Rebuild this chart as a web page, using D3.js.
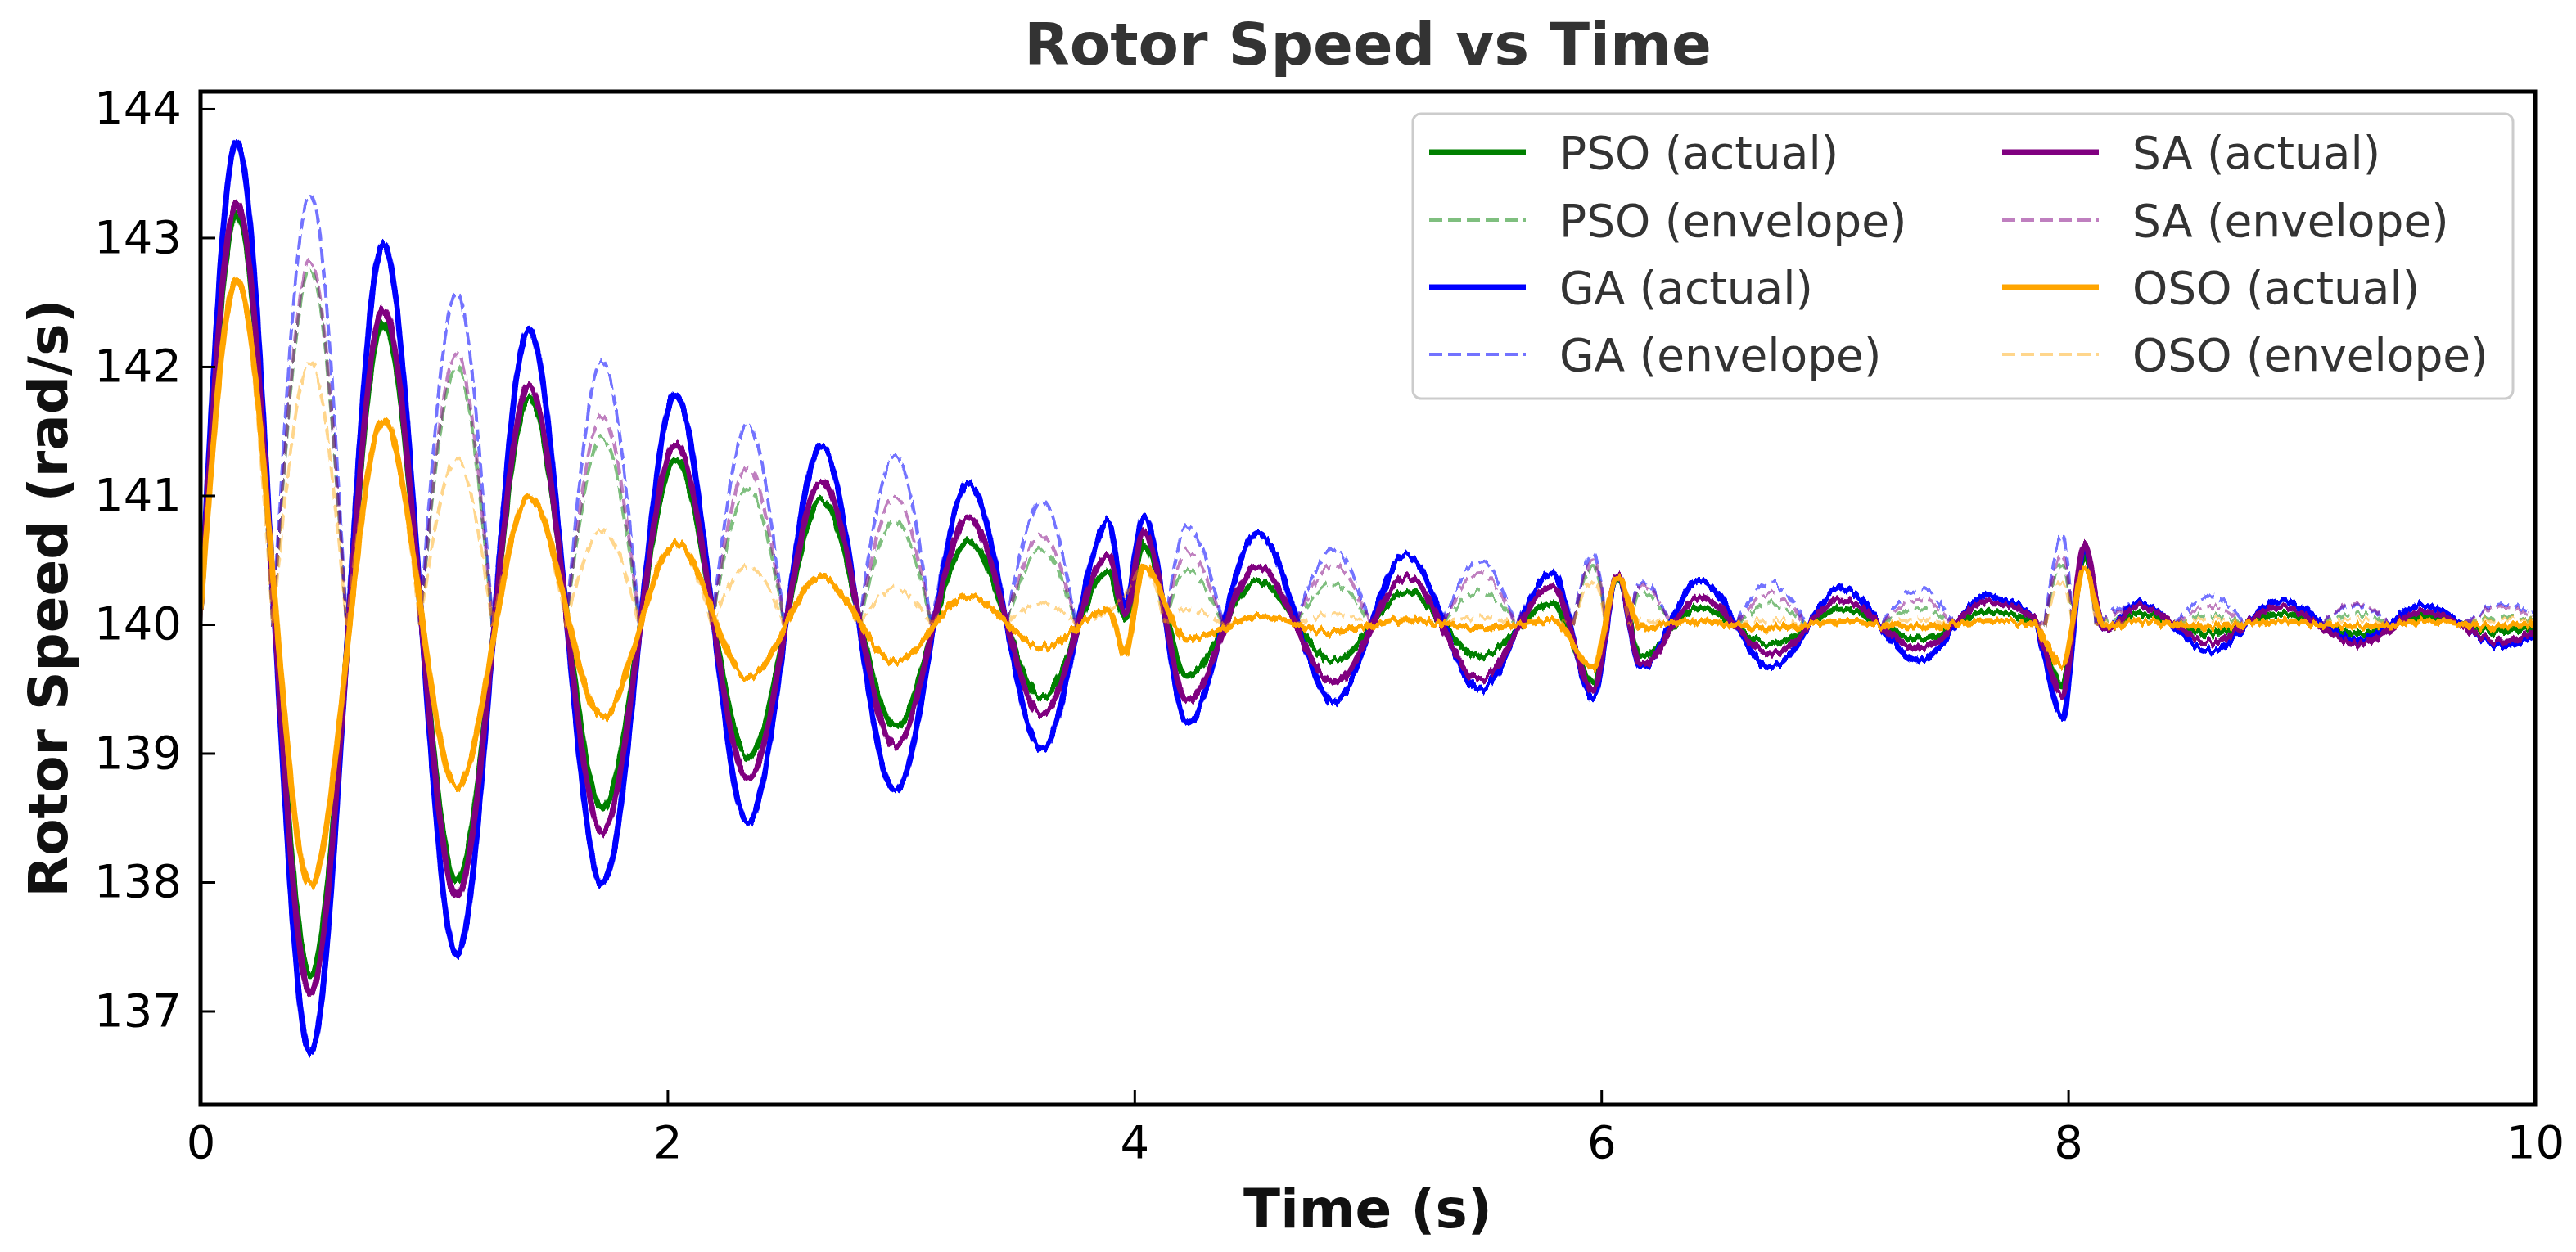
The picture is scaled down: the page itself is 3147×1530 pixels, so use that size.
<!DOCTYPE html>
<html>
<head>
<meta charset="utf-8">
<script src="https://cdn.jsdelivr.net/npm/d3@7"></script>
<style>
  body { margin: 0; background: #fff; }
  text { font-family: 'DejaVu Sans', sans-serif; }
</style>
</head>
<body>
<div id="chart"></div>
<script>
// time of each peak / trough / kink (s)
const timeKey = [
  0.00, 0.155, 0.47, 0.783, 1.097, 1.407, 1.72, 2.035, 2.345, 2.66,
  2.975, 3.29, 3.605, 3.89, 3.96, 4.04, 4.225, 4.53, 4.855, 5.165,
  5.48, 5.79, 5.965, 6.07, 6.17, 6.42, 6.73, 7.03, 7.36, 7.66,
  7.85, 7.975, 8.07, 8.155, 8.30, 8.61, 8.91, 9.24, 9.52, 9.87,
  10.0
];

const psoActual = [
  140.1, 143.20, 137.27, 142.34, 138.00, 141.76, 138.57, 141.27, 138.97, 140.96,
  139.21, 140.65, 139.43, 140.41, 140.04, 140.62, 139.60, 140.34, 139.71, 140.25,
  139.75, 140.16, 139.55, 140.35, 139.75, 140.13, 139.85, 140.12, 139.88, 140.10,
  140.02, 139.53, 140.53, 139.96, 140.08, 139.93, 140.08, 139.92, 140.06, 139.94,
  139.98
];
const gaActual = [
  140.1, 143.73, 136.68, 142.95, 137.44, 142.29, 137.98, 141.78, 138.46, 141.39,
  138.70, 141.09, 139.03, 140.79, 140.15, 140.84, 139.24, 140.71, 139.40, 140.54,
  139.49, 140.40, 139.43, 140.37, 139.66, 140.34, 139.66, 140.28, 139.72, 140.23,
  140.05, 139.28, 140.60, 139.95, 140.17, 139.79, 140.19, 139.87, 140.15, 139.83,
  139.92
];
const saActual = [
  140.1, 143.27, 137.14, 142.44, 137.89, 141.85, 138.39, 141.40, 138.80, 141.11,
  139.06, 140.82, 139.30, 140.54, 140.08, 140.72, 139.41, 140.45, 139.54, 140.37,
  139.57, 140.30, 139.49, 140.38, 139.68, 140.21, 139.77, 140.19, 139.81, 140.18,
  140.05, 139.45, 140.62, 139.95, 140.14, 139.86, 140.14, 139.84, 140.10, 139.86,
  139.95
];
const osoActual = [
  140.1, 142.67, 137.98, 141.58, 138.74, 140.99, 139.28, 140.63, 139.59, 140.37,
  139.71, 140.22, 139.82, 140.11, 139.77, 140.45, 139.88, 140.06, 139.94, 140.04,
  139.97, 140.03, 139.66, 140.36, 139.98, 140.02, 139.98, 140.02, 139.98, 140.02,
  140.00, 139.68, 140.43, 139.98, 140.02, 139.98, 140.02, 139.98, 140.02, 139.98,
  140.00
];

// envelope: humps between the crossings of 140
const timeEnv = [
  0.00, 0.155, 0.31, 0.47, 0.625, 0.783, 0.94, 1.097, 1.25, 1.407,
  1.565, 1.72, 1.88, 2.035, 2.19, 2.345, 2.50, 2.66, 2.82, 2.975,
  3.13, 3.29, 3.45, 3.605, 3.75, 3.89, 3.96, 4.04, 4.13, 4.225,
  4.38, 4.53, 4.69, 4.855, 5.01, 5.165, 5.32, 5.48, 5.635, 5.79,
  5.88, 5.965, 6.02, 6.07, 6.12, 6.17, 6.30, 6.42, 6.575, 6.73,
  6.88, 7.03, 7.195, 7.36, 7.51, 7.66, 7.85, 7.90, 7.975, 8.02,
  8.07, 8.12, 8.30, 8.455, 8.61, 8.76, 8.91, 9.075, 9.24, 9.38,
  9.52, 9.695, 9.87, 10.0
];

const psoEnvelope = [
  140, 143.20, 140, 142.75, 140, 142.34, 140, 142.00, 140, 141.76,
  140, 141.45, 140, 141.27, 140, 141.05, 140, 140.96, 140, 140.80,
  140, 140.65, 140, 140.58, 140, 140.41, 140.04, 140.62, 140, 140.42,
  140, 140.34, 140, 140.32, 140, 140.25, 140, 140.25, 140, 140.16,
  140, 140.45, 140, 140.35, 140, 140.25, 140, 140.13, 140, 140.15,
  140, 140.12, 140, 140.12, 140, 140.10, 140.02, 140, 140.47, 140,
  140.53, 140, 140.08, 140, 140.07, 140, 140.08, 140, 140.08, 140,
  140.06, 140, 140.06, 140.02
];
const gaEnvelope = [
  140, 143.73, 140, 143.34, 140, 142.95, 140, 142.57, 140, 142.29,
  140, 142.04, 140, 141.78, 140, 141.55, 140, 141.39, 140, 141.31,
  140, 141.09, 140, 140.96, 140, 140.79, 140.15, 140.84, 140, 140.76,
  140, 140.71, 140, 140.58, 140, 140.54, 140, 140.50, 140, 140.40,
  140, 140.55, 140, 140.37, 140, 140.33, 140, 140.34, 140, 140.32,
  140, 140.28, 140, 140.27, 140, 140.23, 140.05, 140, 140.70, 140,
  140.60, 140, 140.17, 140, 140.22, 140, 140.19, 140, 140.15, 140,
  140.15, 140, 140.16, 140.08
];
const saEnvelope = [
  140, 143.27, 140, 142.82, 140, 142.44, 140, 142.10, 140, 141.85,
  140, 141.62, 140, 141.40, 140, 141.22, 140, 141.11, 140, 140.98,
  140, 140.82, 140, 140.69, 140, 140.54, 140.08, 140.72, 140, 140.57,
  140, 140.45, 140, 140.46, 140, 140.37, 140, 140.40, 140, 140.30,
  140, 140.50, 140, 140.38, 140, 140.31, 140, 140.21, 140, 140.23,
  140, 140.19, 140, 140.19, 140, 140.18, 140.05, 140, 140.55, 140,
  140.62, 140, 140.14, 140, 140.14, 140, 140.14, 140, 140.16, 140,
  140.10, 140, 140.14, 140.05
];
const osoEnvelope = [
  140, 142.67, 140, 142.04, 140, 141.58, 140, 141.28, 140, 140.99,
  140, 140.73, 140, 140.63, 140, 140.45, 140, 140.37, 140, 140.27,
  140, 140.22, 140, 140.17, 140, 140.11, 140.23, 140.45, 140, 140.12,
  140, 140.06, 140, 140.08, 140, 140.04, 140, 140.06, 140, 140.03,
  140, 140.34, 140, 140.36, 140, 140.04, 140, 140.03, 140, 140.04,
  140, 140.03, 140, 140.04, 140, 140.03, 140.01, 140, 140.32, 140,
  140.43, 140, 140.03, 140, 140.04, 140, 140.03, 140, 140.04, 140,
  140.03, 140, 140.04, 140.02
];

const xTicks = [0, 2, 4, 6, 8, 10];
const yTicks = [137, 138, 139, 140, 141, 142, 143, 144];

const series = [
  {name: 'PSO', color: '#008000', envOpacity: 0.5, actual: psoActual, envelope: psoEnvelope},
  {name: 'GA', color: '#0000ff', envOpacity: 0.55, actual: gaActual, envelope: gaEnvelope},
  {name: 'SA', color: '#800080', envOpacity: 0.5, actual: saActual, envelope: saEnvelope},
  {name: 'OSO', color: '#ffa500', envOpacity: 0.45, actual: osoActual, envelope: osoEnvelope}
];

const width = 3147, height = 1530;
const plotLeft = 245, plotRight = 3097, plotTop = 112, plotBottom = 1350;

const svg = d3.select('#chart').append('svg')
  .attr('width', width).attr('height', height);
svg.append('rect').attr('width', width).attr('height', height).attr('fill', '#fff');

const x = d3.scaleLinear().domain([0, 10]).range([plotLeft, plotRight]);
const y = d3.scaleLinear().domain([136.273, 144.133]).range([plotBottom, plotTop]);

const defs = svg.append('defs');
defs.append('clipPath').attr('id', 'plotclip')
  .append('rect').attr('x', plotLeft).attr('y', plotTop)
  .attr('width', plotRight - plotLeft).attr('height', plotBottom - plotTop);

// measurement jitter look: small vertical wobble on the traces
const jitter = defs.append('filter').attr('id', 'jitter')
  .attr('filterUnits', 'userSpaceOnUse')
  .attr('x', 0).attr('y', 0).attr('width', width).attr('height', height);
jitter.append('feTurbulence')
  .attr('type', 'fractalNoise').attr('baseFrequency', '0.18 0.02')
  .attr('numOctaves', 2).attr('seed', 3).attr('result', 'noise');
jitter.append('feColorMatrix')
  .attr('in', 'noise').attr('type', 'matrix')
  .attr('values', '0 0 0 0 0.5  0 1 0 0 0  0 0 0 0 0  0 0 0 0 1')
  .attr('result', 'ynoise');
jitter.append('feDisplacementMap')
  .attr('in', 'SourceGraphic').attr('in2', 'ynoise')
  .attr('scale', 16)
  .attr('xChannelSelector', 'R').attr('yChannelSelector', 'G');

const line = d3.line()
  .x(d => x(d[0]))
  .y(d => y(d[1]))
  .curve(d3.curveMonotoneX);

// cut the envelope into humps so each dip to 140 stays pointed
function humps(ts, vs) {
  const segs = [];
  let cur = [];
  ts.forEach((t, i) => {
    cur.push([t, vs[i]]);
    if (vs[i] === 140 && cur.length > 1) {
      segs.push(cur);
      cur = [[t, vs[i]]];
    }
  });
  if (cur.length > 1) segs.push(cur);
  return segs;
}

const plot = svg.append('g').attr('clip-path', 'url(#plotclip)')
  .append('g').attr('filter', 'url(#jitter)');

series.forEach(s => {
  plot.append('path')
    .datum(timeKey.map((t, i) => [t, s.actual[i]]))
    .attr('d', line)
    .attr('fill', 'none')
    .attr('stroke', s.color)
    .attr('stroke-width', 7)
    .attr('stroke-linejoin', 'round');

  plot.selectAll(null)
    .data(humps(timeEnv, s.envelope))
    .enter().append('path')
    .attr('d', line)
    .attr('fill', 'none')
    .attr('stroke', s.color)
    .attr('stroke-opacity', s.envOpacity)
    .attr('stroke-width', 4)
    .attr('stroke-dasharray', '16 7');
});

// axes, ticks pointing inward
const xAxis = svg.append('g')
  .attr('transform', `translate(0,${plotBottom})`)
  .call(d3.axisBottom(x).tickValues(xTicks).tickFormat(d3.format('d'))
    .tickSizeInner(-18).tickSizeOuter(0).tickPadding(25));
const yAxis = svg.append('g')
  .attr('transform', `translate(${plotLeft},0)`)
  .call(d3.axisLeft(y).tickValues(yTicks).tickFormat(d3.format('d'))
    .tickSizeInner(-18).tickSizeOuter(0).tickPadding(23));

[xAxis, yAxis].forEach(a => {
  a.select('.domain').remove();
  a.selectAll('.tick line').attr('stroke', '#000').attr('stroke-width', 3);
  a.selectAll('.tick text')
    .attr('font-family', 'DejaVu Sans')
    .attr('font-size', 56)
    .attr('fill', '#000');
});

svg.append('rect')
  .attr('x', plotLeft).attr('y', plotTop)
  .attr('width', plotRight - plotLeft).attr('height', plotBottom - plotTop)
  .attr('fill', 'none').attr('stroke', '#000').attr('stroke-width', 5);

// titles
svg.append('text')
  .attr('x', (plotLeft + plotRight) / 2).attr('y', 79)
  .attr('text-anchor', 'middle')
  .attr('font-size', 72).attr('font-weight', 'bold').attr('fill', '#333')
  .text('Rotor Speed vs Time');

svg.append('text')
  .attr('x', (plotLeft + plotRight) / 2).attr('y', 1500)
  .attr('text-anchor', 'middle')
  .attr('font-size', 66).attr('font-weight', 'bold').attr('fill', '#111')
  .text('Time (s)');

svg.append('text')
  .attr('transform', `translate(82,${(plotTop + plotBottom) / 2}) rotate(-90)`)
  .attr('text-anchor', 'middle')
  .attr('font-size', 66).attr('font-weight', 'bold').attr('fill', '#111')
  .text('Rotor Speed (rad/s)');

// legend, two columns filled top to bottom
const legendItems = [];
series.forEach(s => {
  legendItems.push({label: `${s.name} (actual)`, color: s.color, dashed: false, opacity: 1});
  legendItems.push({label: `${s.name} (envelope)`, color: s.color, dashed: true, opacity: s.envOpacity});
});

const legend = svg.append('g');
legend.append('rect')
  .attr('x', 1726).attr('y', 139)
  .attr('width', 1344).attr('height', 348)
  .attr('rx', 10)
  .attr('fill', '#fff').attr('fill-opacity', 0.8)
  .attr('stroke', '#ccc').attr('stroke-width', 3);

const colX = [1746, 2446];
const rowY = [186, 269, 351, 433];

const item = legend.selectAll('g.item')
  .data(legendItems)
  .enter().append('g')
  .attr('class', 'item')
  .attr('transform', (d, i) => `translate(${colX[Math.floor(i / 4)]},${rowY[i % 4]})`);

item.append('line')
  .attr('x1', 0).attr('x2', 118)
  .attr('stroke', d => d.color)
  .attr('stroke-opacity', d => d.opacity)
  .attr('stroke-width', d => d.dashed ? 4 : 7)
  .attr('stroke-dasharray', d => d.dashed ? '16 7' : null);

item.append('text')
  .attr('x', 159).attr('y', 20)
  .attr('font-size', 55).attr('fill', '#333')
  .text(d => d.label);
</script>
</body>
</html>
